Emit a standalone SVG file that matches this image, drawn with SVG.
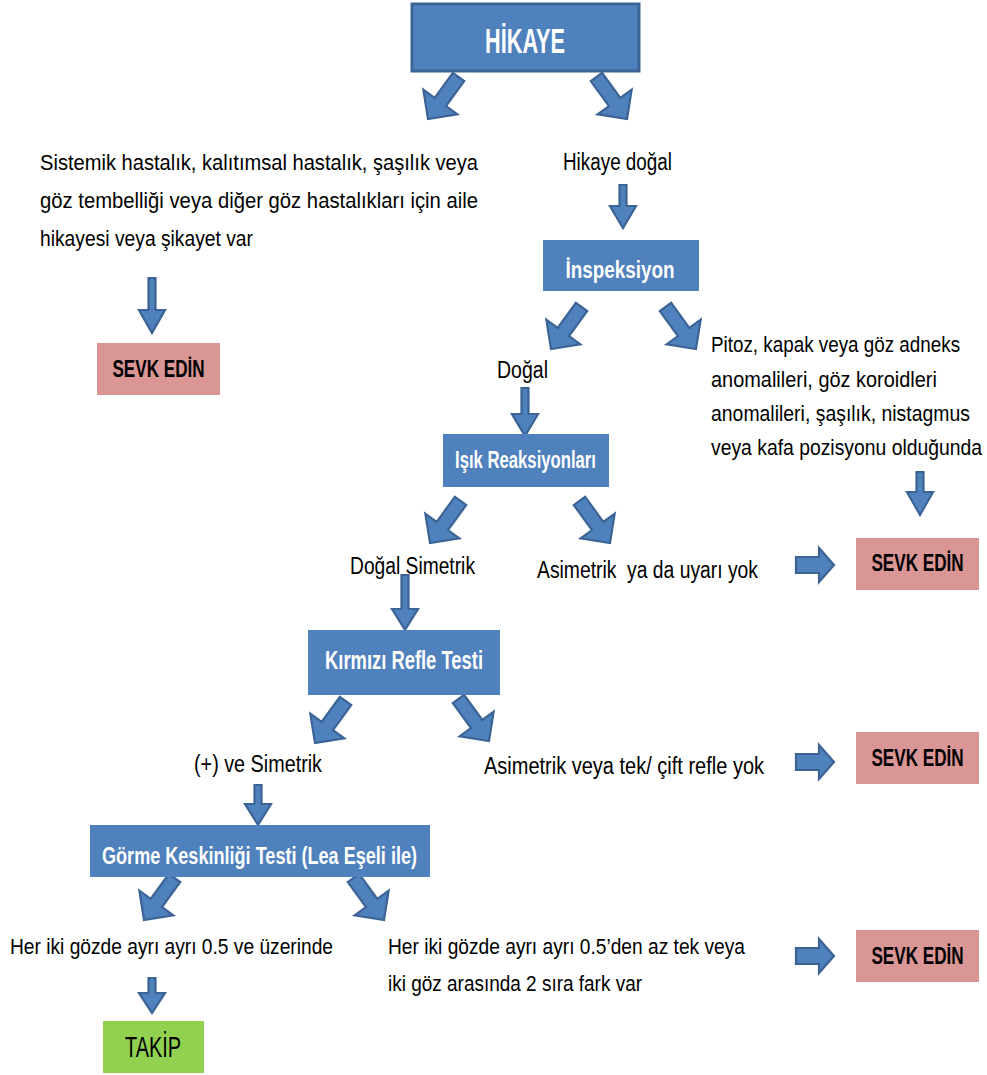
<svg xmlns="http://www.w3.org/2000/svg" width="987" height="1075" viewBox="0 0 987 1075">
<style>
.t{font-family:"Liberation Sans",Arial,sans-serif;fill:#000;}
.b{font-family:"Liberation Sans",Arial,sans-serif;fill:#fff;font-weight:bold;text-anchor:middle;}
.k{font-family:"Liberation Sans",Arial,sans-serif;fill:#000;font-weight:bold;text-anchor:middle;}
.blue{fill:#4f81bd;}
.red{fill:#d99694;}
.green{fill:#92d050;}
.arr{fill:#4f81bd;stroke:#3b6495;stroke-width:2.2;stroke-linejoin:miter;}
</style>
<defs>
<path id="diag" d="M-7,-52 L7,-52 L7,-21 L21,-21 L0,0 L-21,-21 L-7,-21 Z"/>
</defs>

<g id="connectors">
<use href="#diag" class="arr" transform="translate(428,119) rotate(36)"/>
<use href="#diag" class="arr" transform="translate(627,119) rotate(-36)"/>
<use href="#diag" class="arr" transform="translate(551,349) rotate(36)"/>
<use href="#diag" class="arr" transform="translate(696,349) rotate(-36)"/>
<use href="#diag" class="arr" transform="translate(430,543) rotate(36)"/>
<use href="#diag" class="arr" transform="translate(610,543) rotate(-36)"/>
<use href="#diag" class="arr" transform="translate(315,743) rotate(36)"/>
<use href="#diag" class="arr" transform="translate(489,741) rotate(-36)"/>
<use href="#diag" class="arr" transform="translate(144,920) rotate(36)"/>
<use href="#diag" class="arr" transform="translate(384,920) rotate(-36)"/>
<path class="arr" d="M619.5,185 H626.5 V206 H636 L623,228 L610,206 H619.5 Z"/>
<path class="arr" d="M148.5,278 H155.5 V310 H165 L152,333 L139,310 H148.5 Z"/>
<path class="arr" d="M521.5,388 H528.5 V414 H538 L525,436 L512,414 H521.5 Z"/>
<path class="arr" d="M916.5,472 H923.5 V492 H933 L920,515 L907,492 H916.5 Z"/>
<path class="arr" d="M401.5,575 H408.5 V609 H418 L405,630 L392,609 H401.5 Z"/>
<path class="arr" d="M254.5,785 H261.5 V804 H271 L258,825 L245,804 H254.5 Z"/>
<path class="arr" d="M148.5,978 H155.5 V993 H165 L152,1013 L139,993 H148.5 Z"/>
<path class="arr" d="M796,557 H819 V548 L834,565 L819,582 V573 H796 Z"/>
<path class="arr" d="M796,754 H819 V745 L834,762 L819,779 V770 H796 Z"/>
<path class="arr" d="M796,948 H819 V939 L834,956 L819,973 V964 H796 Z"/>
</g>

<g id="hikaye">
<rect x="412" y="4" width="227" height="67" class="blue" stroke="#3b6495" stroke-width="3"/>
<text transform="translate(525,53) scale(0.62,1)" class="b" font-size="35" textLength="129" lengthAdjust="spacingAndGlyphs">HİKAYE</text>
</g>

<g id="aile-hikayesi">
<text class="t" font-size="22" x="40" y="170" textLength="438" lengthAdjust="spacingAndGlyphs">Sistemik hastalık, kalıtımsal hastalık, şaşılık veya</text>
<text class="t" font-size="22" x="40" y="208" textLength="438" lengthAdjust="spacingAndGlyphs">göz tembelliği veya diğer göz hastalıkları için aile</text>
<text class="t" font-size="22" x="40" y="246" textLength="213" lengthAdjust="spacingAndGlyphs">hikayesi veya şikayet var</text>
</g>

<g id="sevk1">
<rect x="97" y="343" width="123" height="52" class="red"/>
<text transform="translate(158.5,377) scale(0.75,1)" class="k" font-size="23" textLength="123" lengthAdjust="spacingAndGlyphs">SEVK EDİN</text>
</g>

<g id="hikaye-dogal">
<text class="t" font-size="23" x="563" y="170" textLength="109" lengthAdjust="spacingAndGlyphs">Hikaye doğal</text>
</g>

<g id="inspeksiyon">
<rect x="543" y="240" width="156" height="51" class="blue"/>
<text x="620" y="278" class="b" font-size="23" textLength="109" lengthAdjust="spacingAndGlyphs">İnspeksiyon</text>
</g>

<g id="dogal">
<text class="t" font-size="23" x="497" y="378" textLength="51" lengthAdjust="spacingAndGlyphs">Doğal</text>
</g>

<g id="pitoz">
<text class="t" font-size="22" transform="translate(711,352) scale(0.856,1)" textLength="291" lengthAdjust="spacingAndGlyphs">Pitoz, kapak veya göz adneks</text>
<text class="t" font-size="22" transform="translate(711,387) scale(0.907,1)" textLength="249" lengthAdjust="spacingAndGlyphs">anomalileri, göz koroidleri</text>
<text class="t" font-size="22" transform="translate(711,421) scale(0.89,1)" textLength="291" lengthAdjust="spacingAndGlyphs">anomalileri, şaşılık, nistagmus</text>
<text class="t" font-size="22" transform="translate(711,455) scale(0.88,1)" textLength="308" lengthAdjust="spacingAndGlyphs">veya kafa pozisyonu olduğunda</text>
</g>

<g id="isik">
<rect x="443" y="434" width="166" height="53" class="blue"/>
<text x="525.5" y="468" class="b" font-size="23" textLength="141" lengthAdjust="spacingAndGlyphs">Işık Reaksiyonları</text>
</g>

<g id="dogal-simetrik">
<text class="t" font-size="23" x="350" y="574" textLength="125" lengthAdjust="spacingAndGlyphs">Doğal Simetrik</text>
</g>

<g id="asimetrik1">
<text class="t" font-size="23" x="537" y="578" textLength="221" lengthAdjust="spacingAndGlyphs">Asimetrik&#160; ya da uyarı yok</text>
</g>

<g id="sevk2">
<rect x="856" y="538" width="123" height="52" class="red"/>
<text transform="translate(917.5,571) scale(0.75,1)" class="k" font-size="23" textLength="123" lengthAdjust="spacingAndGlyphs">SEVK EDİN</text>
</g>

<g id="kirmizi">
<rect x="308" y="630" width="192" height="65" class="blue"/>
<text x="404" y="669" class="b" font-size="25" textLength="158" lengthAdjust="spacingAndGlyphs">Kırmızı Refle Testi</text>
</g>

<g id="arti-simetrik">
<text class="t" font-size="23" x="194" y="772" textLength="128" lengthAdjust="spacingAndGlyphs">(+) ve Simetrik</text>
</g>

<g id="asimetrik2">
<text class="t" font-size="23" x="484" y="774" textLength="280" lengthAdjust="spacingAndGlyphs">Asimetrik veya tek/ çift refle yok</text>
</g>

<g id="sevk3">
<rect x="856" y="732" width="123" height="52" class="red"/>
<text transform="translate(917.5,766) scale(0.75,1)" class="k" font-size="23" textLength="123" lengthAdjust="spacingAndGlyphs">SEVK EDİN</text>
</g>

<g id="gorme">
<rect x="90" y="825" width="340" height="52" class="blue"/>
<text x="259.5" y="864" class="b" font-size="23" textLength="315" lengthAdjust="spacingAndGlyphs">Görme Keskinliği Testi (Lea Eşeli ile)</text>
</g>

<g id="uzerinde">
<text class="t" font-size="22" x="10" y="954" textLength="323" lengthAdjust="spacingAndGlyphs">Her iki gözde ayrı ayrı 0.5 ve üzerinde</text>
</g>

<g id="azdan">
<text class="t" font-size="22" x="388" y="954" textLength="357" lengthAdjust="spacingAndGlyphs">Her iki gözde ayrı ayrı 0.5’den az tek veya</text>
<text class="t" font-size="22" x="388" y="991" textLength="254" lengthAdjust="spacingAndGlyphs">iki göz arasında 2 sıra fark var</text>
</g>

<g id="sevk4">
<rect x="856" y="930" width="123" height="52" class="red"/>
<text transform="translate(917.5,964) scale(0.75,1)" class="k" font-size="23" textLength="123" lengthAdjust="spacingAndGlyphs">SEVK EDİN</text>
</g>

<g id="takip">
<rect x="103" y="1021" width="101" height="52" class="green"/>
<text x="153" y="1057" class="k" font-size="30" textLength="56" lengthAdjust="spacingAndGlyphs" style="font-weight:normal">TAKİP</text>
</g>
</svg>
